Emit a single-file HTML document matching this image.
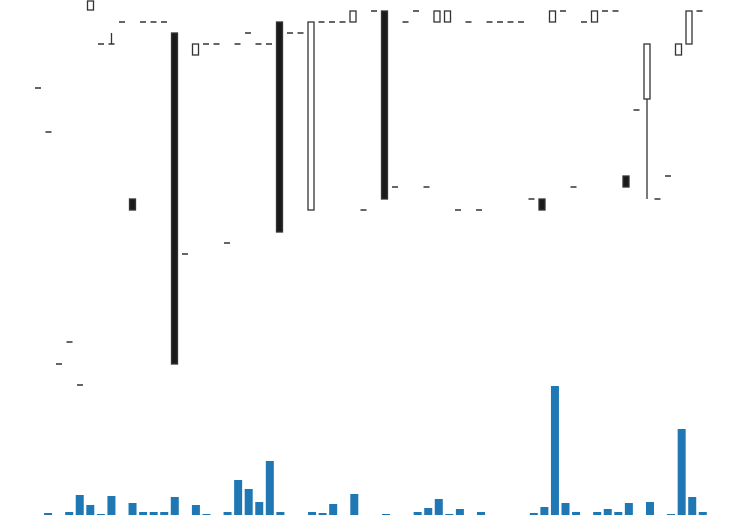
<!DOCTYPE html>
<html><head><meta charset="utf-8"><style>
html,body{margin:0;padding:0;background:#fff;width:737px;height:515px;overflow:hidden;font-family:"Liberation Sans",sans-serif}
</style></head><body>
<svg id="chart" width="737" height="515" viewBox="0 0 737 515" xmlns="http://www.w3.org/2000/svg">
<g id="candles"></g>
<g id="vols"></g>
</svg>
<script>
// price values (higher = higher on chart)
const opens  = [312,268,36,58,15,390,356,356,378,201,378,378,378,367,146,345,356,356,157,356,367,356,356,378,367,367,190,378,378,378,378,190,389,389,213,378,389,213,378,378,190,378,190,378,378,378,378,201,201,378,389,213,378,378,389,389,224,290,301,201,224,345,356,389];
const closes = [312,268,36,58,15,399,356,356,378,190,378,378,378,36,146,356,356,356,157,356,367,356,356,168,367,367,378,378,378,378,389,190,389,201,213,378,389,213,389,389,190,378,190,378,378,378,378,201,190,389,389,213,378,389,389,389,213,290,356,201,224,356,389,389];
const highs  = [312,268,36,58,15,399,356,367,378,201,378,378,378,367,146,356,356,356,157,356,367,356,356,378,367,367,378,378,378,378,389,190,389,389,213,378,389,213,389,389,190,378,190,378,378,378,378,201,201,389,389,213,378,389,389,389,224,290,356,201,224,356,389,389];
const lows   = [312,268,36,58,15,390,356,356,378,190,378,378,378,36,146,345,356,356,157,356,367,356,356,168,367,367,190,378,378,378,378,190,389,201,213,378,389,213,378,378,190,378,190,378,378,378,378,201,190,378,389,213,378,378,389,389,213,290,201,201,224,345,356,389];
const volumes = [0,2,0,3,20,10,1,19,0,12,3,3,3,18,0,10,1,0,3,35,26,13,54,3,0,0,3,2,11,0,21,0,0,1,0,0,3,7,16,1,6,0,3,0,0,0,0,2,8,129,12,3,0,3,6,3,12,0,13,0,1,86,18,3];

const xOf = i => 38 + 10.5 * i;
const xBar = i => 37.5 + 10.56 * i;
const yP = p => 400 - p;
const yV = v => 515 - v;
const NS = 'http://www.w3.org/2000/svg';
const cg = document.getElementById('candles');
const vg = document.getElementById('vols');

for (let i = 0; i < opens.length; i++) {
  const x = xOf(i);
  const o = opens[i], c = closes[i], h = highs[i], l = lows[i];
  const top = Math.max(o, c), bot = Math.min(o, c);
  if (h > top || l < bot) {
    const w = document.createElementNS(NS, 'line');
    
    
    w.setAttribute('x1', x); w.setAttribute('x2', x);
    w.setAttribute('y1', yP(h)); w.setAttribute('y2', yP(l));
    w.setAttribute('stroke', '#333'); w.setAttribute('stroke-width', '1.3');
    cg.appendChild(w);
  }
  if (top === bot) {
    const d = document.createElementNS(NS, 'line');
    
    
    d.setAttribute('x1', x - 3); d.setAttribute('x2', x + 3);
    d.setAttribute('y1', yP(o)); d.setAttribute('y2', yP(o));
    d.setAttribute('stroke', '#333'); d.setAttribute('stroke-width', '1.5');
    cg.appendChild(d);
  } else {
    const r = document.createElementNS(NS, 'rect');
    
    
    r.setAttribute('x', x - 3); r.setAttribute('width', 6);
    r.setAttribute('y', yP(top)); r.setAttribute('height', yP(bot) - yP(top));
    r.setAttribute('fill', c > o ? '#fff' : '#1a1a1a');
    r.setAttribute('stroke', '#333'); r.setAttribute('stroke-width', '1.3');
    cg.appendChild(r);
  }
  if (volumes[i] > 0) {
    const b = document.createElementNS(NS, 'rect');
    
    
    b.setAttribute('x', xBar(i) - 4); b.setAttribute('width', 8);
    b.setAttribute('y', yV(volumes[i])); b.setAttribute('height', 515 - yV(volumes[i]));
    b.setAttribute('fill', '#1f77b4');
    vg.appendChild(b);
  }
}
</script>
</body></html>
